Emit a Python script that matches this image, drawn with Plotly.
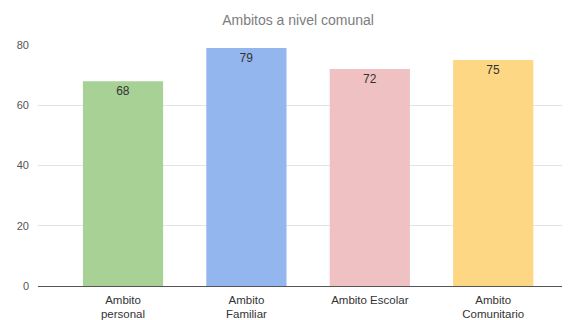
import plotly.graph_objects as go

categories = ["Ambito<br>personal", "Ambito<br>Familiar", "Ambito Escolar", "Ambito<br>Comunitario"]
values = [68, 79, 72, 75]
colors = ["#a8d196", "#93b6ee", "#f0c1c3", "#fed784"]
title = "Ambitos a nivel comunal"
y_ticks = [0, 20, 40, 60, 80]

# page body has an 8px margin, so the figure is sized/positioned to compensate
W, H = 562, 312

fig = go.Figure(go.Bar(
    x=categories, y=values,
    marker=dict(color=colors, line=dict(width=0)),
    text=[str(v) for v in values],
    textposition="inside", insidetextanchor="end",
    textfont=dict(family="Liberation Sans, Arial", size=12, color="#333333"),
    width=0.65,
))

fig.update_layout(
    width=W, height=H,
    margin=dict(l=30, r=4, t=37, b=34),
    paper_bgcolor="white", plot_bgcolor="white",
    title=dict(text=title, x=290 / W, xanchor="center", y=1 - 12 / H, yanchor="middle",
               font=dict(family="Liberation Sans, Arial", size=14, color="#7d7d7d")),
    showlegend=False,
    font=dict(family="Liberation Sans, Arial", size=11, color="#333333"),
)
fig.update_xaxes(
    range=[-0.689, 3.59], showgrid=False, showline=False, zeroline=False,
    ticks="", tickfont=dict(size=11.5, color="#333333"), automargin=False,
    ticklabelstandoff=5,
)
fig.update_yaxes(
    range=[0, 80], tickvals=y_ticks, showgrid=True, gridcolor="#e3e3e3", gridwidth=1,
    zeroline=True, zerolinecolor="#555555", zerolinewidth=1,
    showline=False, ticks="", tickfont=dict(size=11, color="#555555"),
    ticklabelstandoff=8, automargin=False,
)

fig.write_html("out.html")
